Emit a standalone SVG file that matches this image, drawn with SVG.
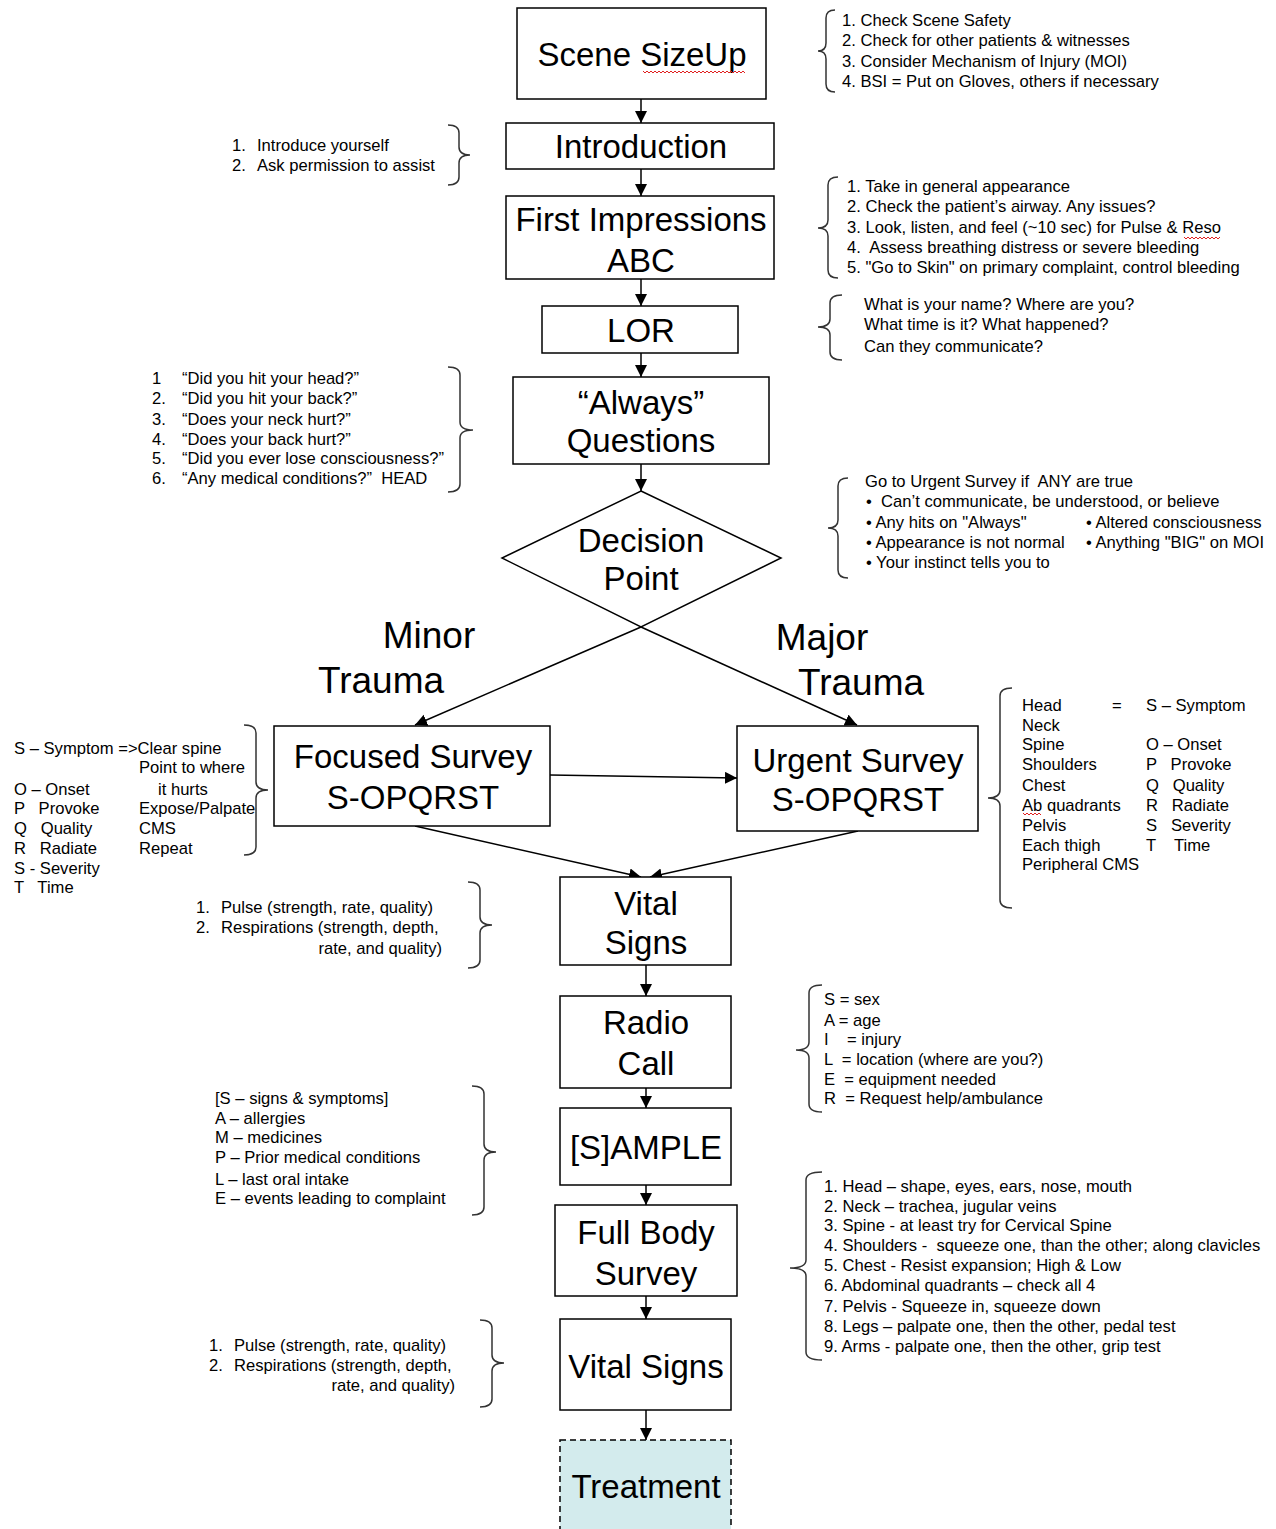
<svg xmlns="http://www.w3.org/2000/svg" width="1276" height="1529" viewBox="0 0 1276 1529">
<defs>
<marker id="ah" markerUnits="userSpaceOnUse" markerWidth="12" markerHeight="14" refX="12" refY="6" orient="auto">
<path d="M0,0 L12,6 L0,12 Z" fill="#000"/>
</marker>
<style>
.box{fill:#fff;stroke:#000;stroke-width:1.5}
.big{font-family:"Liberation Sans",Arial,sans-serif;font-size:33px;fill:#000;text-anchor:middle}
.lbl{font-family:"Liberation Sans",Arial,sans-serif;font-size:37px;fill:#000;text-anchor:middle}
.note{font-family:"Liberation Sans",Arial,sans-serif;font-size:16.6px;fill:#000;white-space:pre}
.br{fill:none;stroke:#333;stroke-width:1.5}
.con{fill:none;stroke:#000;stroke-width:1.5;marker-end:url(#ah)}
.sq{fill:none;stroke:#e02020;stroke-width:1}
</style>
</defs>
<rect width="1276" height="1529" fill="#fff"/>

<g id="connectors">
<path class="con" d="M641,99 V123"/>
<path class="con" d="M641,169 V196"/>
<path class="con" d="M641,279 V306"/>
<path class="con" d="M641,353 V377"/>
<path class="con" d="M641,464 V491"/>
<path class="con" d="M641,627 L415,725"/>
<path class="con" d="M641,627 L857,725"/>
<path class="con" d="M550,775 L737,778"/>
<path class="con" d="M415,826 L641,877"/>
<path class="con" d="M858,831 L650,877"/>
<path class="con" d="M646,965 V996"/>
<path class="con" d="M646,1088 V1108"/>
<path class="con" d="M646,1185 V1205"/>
<path class="con" d="M646,1296 V1319"/>
<path class="con" d="M646,1410 V1440"/>
</g>

<g id="scene-sizeup">
<rect class="box" x="517" y="8" width="249" height="91"/>
<text class="big" x="642" y="66">Scene SizeUp</text>
<path class="sq" d="M643,71 l2,2 l2,-2 l2,2 l2,-2 l2,2 l2,-2 l2,2 l2,-2 l2,2 l2,-2 l2,2 l2,-2 l2,2 l2,-2 l2,2 l2,-2 l2,2 l2,-2 l2,2 l2,-2 l2,2 l2,-2 l2,2 l2,-2 l2,2 l2,-2 l2,2 l2,-2 l2,2 l2,-2 l2,2 l2,-2 l2,2 l2,-2 l2,2 l2,-2 l2,2 l2,-2 l2,2 l2,-2 l2,2 l2,-2 l2,2 l2,-2 l2,2 l2,-2 l2,2 l2,-2 l2,2 l2,-2 l2,2"/>
</g>
<g id="note-scene">
<path class="br" d="M835,10 Q826,10 826,18 V43 Q826,51 818,51 Q826,51 826,59 V84 Q826,92 835,92"/>
<text class="note" x="842" y="26">1. Check Scene Safety</text>
<text class="note" x="842" y="46">2. Check for other patients &amp; witnesses</text>
<text class="note" x="842" y="67">3. Consider Mechanism of Injury (MOI)</text>
<text class="note" x="842" y="87">4. BSI = Put on Gloves, others if necessary</text>
</g>

<g id="introduction">
<rect class="box" x="506" y="123" width="268" height="46"/>
<text class="big" x="641" y="158">Introduction</text>
</g>
<g id="note-intro">
<path class="br" d="M448,125 Q459,125 459,133 V147 Q459,155 470,155 Q459,155 459,163 V177 Q459,185 448,185"/>
<text class="note" x="232" y="151">1.</text><text class="note" x="257" y="151">Introduce yourself</text>
<text class="note" x="232" y="171">2.</text><text class="note" x="257" y="171">Ask permission to assist</text>
</g>

<g id="first-impressions">
<rect class="box" x="506" y="196" width="268" height="83"/>
<text class="big" x="641" y="231">First Impressions</text>
<text class="big" x="641" y="272">ABC</text>
</g>
<g id="note-fi">
<path class="br" d="M838,177 Q828,177 828,185 V220 Q828,228 818,228 Q828,228 828,236 V270 Q828,278 838,278"/>
<text class="note" x="847" y="192">1. Take in general appearance</text>
<text class="note" x="847" y="212">2. Check the patient’s airway. Any issues?</text>
<text class="note" x="847" y="233">3. Look, listen, and feel (~10 sec) for Pulse &amp; Reso</text>
<text class="note" x="847" y="253">4.  Assess breathing distress or severe bleeding</text>
<text class="note" x="847" y="273">5. "Go to Skin" on primary complaint, control bleeding</text>
<path class="sq" d="M1184,237 l2,2 l2,-2 l2,2 l2,-2 l2,2 l2,-2 l2,2 l2,-2 l2,2 l2,-2 l2,2 l2,-2 l2,2 l2,-2 l2,2 l2,-2 l2,2 l2,-2"/>
</g>

<g id="lor">
<rect class="box" x="542" y="306" width="196" height="47"/>
<text class="big" x="641" y="342">LOR</text>
</g>
<g id="note-lor">
<path class="br" d="M842,295 Q830,295 830,303 V319 Q830,327 818,327 Q830,327 830,335 V352 Q830,360 842,360"/>
<text class="note" x="864" y="310">What is your name? Where are you?</text>
<text class="note" x="864" y="330">What time is it? What happened?</text>
<text class="note" x="864" y="352">Can they communicate?</text>
</g>

<g id="always-questions">
<rect class="box" x="513" y="377" width="256" height="87"/>
<text class="big" x="641" y="414">“Always”</text>
<text class="big" x="641" y="452">Questions</text>
</g>
<g id="note-always">
<path class="br" d="M448,367 Q460,367 460,375 V422 Q460,430 473,430 Q460,430 460,438 V484 Q460,492 448,492"/>
<text class="note" x="152" y="384">1</text><text class="note" x="182" y="384">“Did you hit your head?”</text>
<text class="note" x="152" y="404">2.</text><text class="note" x="182" y="404">“Did you hit your back?”</text>
<text class="note" x="152" y="425">3.</text><text class="note" x="182" y="425">“Does your neck hurt?”</text>
<text class="note" x="152" y="445">4.</text><text class="note" x="182" y="445">“Does your back hurt?”</text>
<text class="note" x="152" y="464">5.</text><text class="note" x="182" y="464">“Did you ever lose consciousness?”</text>
<text class="note" x="152" y="484">6.</text><text class="note" x="182" y="484">“Any medical conditions?”  HEAD</text>
</g>

<g id="decision-point">
<path class="box" d="M641,491 L781,558 L641,627 L502,558 Z"/>
<text class="big" x="641" y="552">Decision</text>
<text class="big" x="641" y="590">Point</text>
</g>
<g id="note-decision">
<path class="br" d="M848,478 Q838,478 838,486 V520 Q838,528 828,528 Q838,528 838,536 V570 Q838,578 848,578"/>
<text class="note" x="865" y="487">Go to Urgent Survey if  ANY are true</text>
<text class="note" x="866" y="507">•  Can’t communicate, be understood, or believe</text>
<text class="note" x="866" y="528">• Any hits on "Always"</text>
<text class="note" x="1086" y="528">• Altered consciousness</text>
<text class="note" x="866" y="548">• Appearance is not normal</text>
<text class="note" x="1086" y="548">• Anything "BIG" on MOI</text>
<text class="note" x="866" y="568">• Your instinct tells you to</text>
</g>

<g id="label-minor">
<text class="lbl" x="429" y="648">Minor</text>
<text class="lbl" x="381" y="693">Trauma</text>
</g>
<g id="label-major">
<text class="lbl" x="822" y="650">Major</text>
<text class="lbl" x="861" y="695">Trauma</text>
</g>

<g id="focused-survey">
<rect class="box" x="274" y="726" width="276" height="100"/>
<text class="big" x="413" y="768">Focused Survey</text>
<text class="big" x="413" y="809">S-OPQRST</text>
</g>
<g id="note-focused">
<path class="br" d="M244,725 Q256,725 256,733 V782 Q256,790 268,790 Q256,790 256,798 V847 Q256,855 244,855"/>
<text class="note" x="14" y="754">S – Symptom =&gt;Clear spine</text>
<text class="note" x="139" y="773">Point to where</text>
<text class="note" x="14" y="795">O – Onset</text><text class="note" x="158" y="795">it hurts</text>
<text class="note" x="14" y="814">P   Provoke</text><text class="note" x="139" y="814">Expose/Palpate</text>
<text class="note" x="14" y="834">Q   Quality</text><text class="note" x="139" y="834">CMS</text>
<text class="note" x="14" y="854">R   Radiate</text><text class="note" x="139" y="854">Repeat</text>
<text class="note" x="14" y="874">S - Severity</text>
<text class="note" x="14" y="893">T   Time</text>
</g>

<g id="urgent-survey">
<rect class="box" x="737" y="726" width="241" height="105"/>
<text class="big" x="858" y="772">Urgent Survey</text>
<text class="big" x="858" y="811">S-OPQRST</text>
</g>
<g id="note-urgent">
<path class="br" d="M1012,688 Q1000,688 1000,696 V790 Q1000,798 988,798 Q1000,798 1000,806 V900 Q1000,908 1012,908"/>
<text class="note" x="1022" y="711">Head</text><text class="note" x="1112" y="711">=</text><text class="note" x="1146" y="711">S – Symptom</text>
<text class="note" x="1022" y="731">Neck</text>
<text class="note" x="1022" y="750">Spine</text><text class="note" x="1146" y="750">O – Onset</text>
<text class="note" x="1022" y="770">Shoulders</text><text class="note" x="1146" y="770">P   Provoke</text>
<text class="note" x="1022" y="791">Chest</text><text class="note" x="1146" y="791">Q   Quality</text>
<text class="note" x="1022" y="811">Ab quadrants</text><text class="note" x="1146" y="811">R   Radiate</text>
<text class="note" x="1022" y="831">Pelvis</text><text class="note" x="1146" y="831">S   Severity</text>
<text class="note" x="1022" y="851">Each thigh</text><text class="note" x="1146" y="851">T    Time</text>
<text class="note" x="1022" y="870">Peripheral CMS</text>
<path class="sq" d="M1023,813 l2,2 l2,-2 l2,2 l2,-2 l2,2 l2,-2 l2,2 l2,-2 l2,2"/>
</g>

<g id="vital-signs-1">
<rect class="box" x="560" y="877" width="171" height="88"/>
<text class="big" x="646" y="915">Vital</text>
<text class="big" x="646" y="954">Signs</text>
</g>
<g id="note-vital-1">
<path class="br" d="M468,882 Q480,882 480,890 V917 Q480,925 492,925 Q480,925 480,933 V960 Q480,968 468,968"/>
<text class="note" x="196" y="913">1.</text><text class="note" x="221" y="913">Pulse (strength, rate, quality)</text>
<text class="note" x="196" y="933">2.</text><text class="note" x="221" y="933">Respirations (strength, depth,</text>
<text class="note" x="442" y="954" text-anchor="end">rate, and quality)</text>
</g>

<g id="radio-call">
<rect class="box" x="560" y="996" width="171" height="92"/>
<text class="big" x="646" y="1034">Radio</text>
<text class="big" x="646" y="1075">Call</text>
</g>
<g id="note-radio">
<path class="br" d="M822,985 Q809,985 809,993 V1042 Q809,1050 796,1050 Q809,1050 809,1058 V1104 Q809,1112 822,1112"/>
<text class="note" x="824" y="1005">S = sex</text>
<text class="note" x="824" y="1026">A = age</text>
<text class="note" x="824" y="1045">I    = injury</text>
<text class="note" x="824" y="1065">L  = location (where are you?)</text>
<text class="note" x="824" y="1085">E  = equipment needed</text>
<text class="note" x="824" y="1104">R  = Request help/ambulance</text>
</g>

<g id="sample">
<rect class="box" x="560" y="1108" width="171" height="77"/>
<text class="big" x="646" y="1159">[S]AMPLE</text>
</g>
<g id="note-sample">
<path class="br" d="M472,1086 Q484,1086 484,1094 V1144 Q484,1152 496,1152 Q484,1152 484,1160 V1207 Q484,1215 472,1215"/>
<text class="note" x="215" y="1104">[S – signs &amp; symptoms]</text>
<text class="note" x="215" y="1124">A – allergies</text>
<text class="note" x="215" y="1143">M – medicines</text>
<text class="note" x="215" y="1163">P – Prior medical conditions</text>
<text class="note" x="215" y="1185">L – last oral intake</text>
<text class="note" x="215" y="1204">E – events leading to complaint</text>
</g>

<g id="full-body-survey">
<rect class="box" x="555" y="1205" width="182" height="91"/>
<text class="big" x="646" y="1244">Full Body</text>
<text class="big" x="646" y="1285">Survey</text>
</g>
<g id="note-fullbody">
<path class="br" d="M822,1172 Q806,1172 806,1180 V1260 Q806,1268 790,1268 Q806,1268 806,1276 V1352 Q806,1360 822,1360"/>
<text class="note" x="824" y="1192">1. Head – shape, eyes, ears, nose, mouth</text>
<text class="note" x="824" y="1212">2. Neck – trachea, jugular veins</text>
<text class="note" x="824" y="1231">3. Spine - at least try for Cervical Spine</text>
<text class="note" x="824" y="1251">4. Shoulders -  squeeze one, than the other; along clavicles</text>
<text class="note" x="824" y="1271">5. Chest - Resist expansion; High &amp; Low</text>
<text class="note" x="824" y="1291">6. Abdominal quadrants – check all 4</text>
<text class="note" x="824" y="1312">7. Pelvis - Squeeze in, squeeze down</text>
<text class="note" x="824" y="1332">8. Legs – palpate one, then the other, pedal test</text>
<text class="note" x="824" y="1352">9. Arms - palpate one, then the other, grip test</text>
</g>

<g id="vital-signs-2">
<rect class="box" x="560" y="1319" width="171" height="91"/>
<text class="big" x="646" y="1378">Vital Signs</text>
</g>
<g id="note-vital-2">
<path class="br" d="M480,1320 Q492,1320 492,1328 V1355 Q492,1363 504,1363 Q492,1363 492,1371 V1399 Q492,1407 480,1407"/>
<text class="note" x="209" y="1351">1.</text><text class="note" x="234" y="1351">Pulse (strength, rate, quality)</text>
<text class="note" x="209" y="1371">2.</text><text class="note" x="234" y="1371">Respirations (strength, depth,</text>
<text class="note" x="455" y="1391" text-anchor="end">rate, and quality)</text>
</g>

<g id="treatment">
<rect x="560" y="1440" width="171" height="100" fill="#d3ebed" stroke="#000" stroke-width="1.5" stroke-dasharray="6,4"/>
<text class="big" x="646" y="1498">Treatment</text>
</g>
</svg>
